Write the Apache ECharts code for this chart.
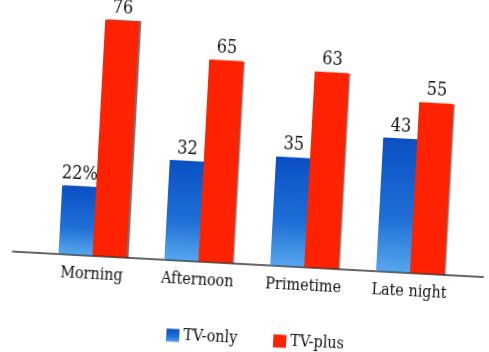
<!DOCTYPE html>
<html>
<head>
<meta charset="utf-8">
<script src="https://cdn.jsdelivr.net/npm/echarts@6/dist/echarts.min.js"></script>
<style>
  html, body { margin: 0; padding: 0; background: #fff; overflow: hidden; }
  #chart { width: 489px; height: 352px; transform: rotate(3.1deg); transform-origin: 50% 50%; }
</style>
</head>
<body>
<div id="chart"></div>
<script>
// Viewing share by time of day
const categories = ['Morning', 'Afternoon', 'Primetime', 'Late night'];
const tvOnly = [22, 32, 35, 43];
const tvPlus = [76, 65, 63, 55];
const seriesNames = ['TV-only', 'TV-plus'];

const FONT = '"DejaVu Serif Condensed", "DejaVu Serif", serif';

const chart = echarts.init(document.getElementById('chart'), null, { renderer: 'canvas' });

const barShadow = {
  shadowColor: 'rgba(0,0,0,0.55)',
  shadowBlur: 1,
  shadowOffsetX: 2,
  shadowOffsetY: 0
};

chart.setOption({
  backgroundColor: 'transparent',
  animation: false,
  grid: [
    { left: 44, right: 21, top: 15, bottom: 88.5 },
    // full-width baseline
    { left: 17, right: -6, top: 15, bottom: 88.5 }
  ],
  legend: {
    data: seriesNames,
    left: 170,
    top: 326,
    itemWidth: 13,
    itemHeight: 13,
    itemGap: 36,
    icon: 'rect',
    textStyle: { fontFamily: FONT, fontSize: 16, color: '#111', padding: [0, 0, 0, -1] }
  },
  xAxis: [
    {
      type: 'category',
      gridIndex: 0,
      data: categories,
      axisLine: { show: false },
      axisTick: { show: false },
      axisLabel: { fontFamily: FONT, fontSize: 16, color: '#111', margin: 11 }
    },
    {
      type: 'value',
      gridIndex: 1,
      min: 0,
      max: 1,
      axisLine: { show: true, lineStyle: { color: '#333', width: 1.5 } },
      axisTick: { show: false },
      axisLabel: { show: false },
      splitLine: { show: false }
    }
  ],
  yAxis: [
    { type: 'value', gridIndex: 0, min: 0, max: 80, show: false },
    { type: 'value', gridIndex: 1, min: 0, max: 1, show: false }
  ],
  series: [
    {
      name: seriesNames[0],
      type: 'bar',
      xAxisIndex: 0,
      yAxisIndex: 0,
      data: tvOnly,
      barWidth: 34,
      barGap: '0%',
      itemStyle: Object.assign({
        color: new echarts.graphic.LinearGradient(0, 0, 0, 1, [
          { offset: 0, color: '#0a50c4' },
          { offset: 0.6, color: '#1f6fd6' },
          { offset: 1, color: '#56a6ee' }
        ])
      }, barShadow),
      label: {
        show: true,
        position: 'top',
        distance: 3,
        fontFamily: FONT,
        fontSize: 18,
        color: '#111',
        formatter: p => p.dataIndex === 0 ? p.value + '%' : String(p.value)
      }
    },
    {
      name: seriesNames[1],
      type: 'bar',
      xAxisIndex: 0,
      yAxisIndex: 0,
      data: tvPlus,
      barWidth: 34,
      itemStyle: Object.assign({ color: '#ff2200' }, barShadow),
      label: {
        show: true,
        position: 'top',
        distance: 3,
        fontFamily: FONT,
        fontSize: 18,
        color: '#111'
      }
    }
  ]
});
</script>
</body>
</html>
